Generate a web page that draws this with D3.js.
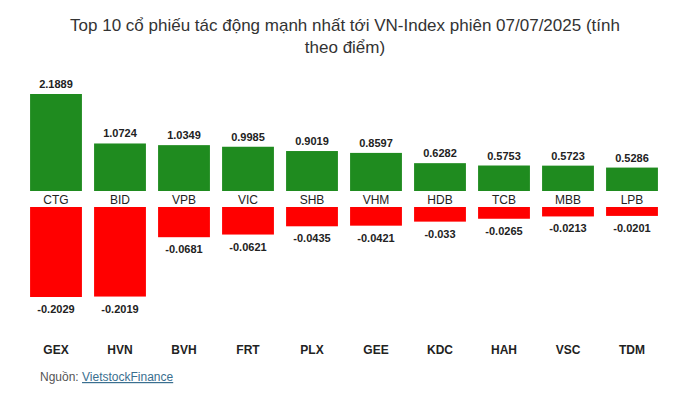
<!DOCTYPE html>
<html><head><meta charset="utf-8">
<script src="https://cdn.jsdelivr.net/npm/d3@7"></script>
<style>body{margin:0;background:#fff;font-family:Arial,"Liberation Sans",sans-serif}</style>
</head><body>
<script>
// Top positive contributors
var posCodes = ["CTG","BID","VPB","VIC","SHB","VHM","HDB","TCB","MBB","LPB"];
var posValues = [2.1889,1.0724,1.0349,0.9985,0.9019,0.8597,0.6282,0.5753,0.5723,0.5286];
// Top negative contributors
var negCodes = ["GEX","HVN","BVH","FRT","PLX","GEE","KDC","HAH","VSC","TDM"];
var negValues = [-0.2029,-0.2019,-0.0681,-0.0621,-0.0435,-0.0421,-0.033,-0.0265,-0.0213,-0.0201];

var w = 690, h = 411;
var svg = d3.select("body").append("svg").attr("width", w).attr("height", h);

// title
var title = svg.append("text").attr("text-anchor", "middle").attr("fill", "#333")
    .attr("font-size", "17px");
title.append("tspan").attr("x", 345).attr("y", 31)
    .text("Top 10 cổ phiếu tác động mạnh nhất tới VN-Index phiên 07/07/2025 (tính");
title.append("tspan").attr("x", 345).attr("y", 53).text("theo điểm)");

var xScale = d3.scaleBand().domain(d3.range(10)).range([24, 664]).paddingInner(0.19).paddingOuter(0.095);
var yPos = d3.scaleLinear().domain([0, d3.max(posValues)]).range([191, 94]);
var yNeg = d3.scaleLinear().domain([0, d3.min(negValues)]).range([207, 297]);

svg.selectAll("rect.pos").data(posValues).enter().append("rect")
    .attr("x", function(d, i) { return xScale(i); })
    .attr("y", function(d) { return yPos(d); })
    .attr("width", xScale.bandwidth())
    .attr("height", function(d) { return yPos(0) - yPos(d); })
    .attr("fill", "#1f8b1f");

svg.selectAll("text.pv").data(posValues).enter().append("text")
    .text(function(d) { return d; })
    .attr("x", function(d, i) { return xScale(i) + xScale.bandwidth() / 2; })
    .attr("y", function(d) { return yPos(d) - 6; })
    .attr("text-anchor", "middle").attr("font-size", "11px").attr("font-weight", "bold").attr("fill", "#222");

svg.selectAll("text.pc").data(posCodes).enter().append("text")
    .text(function(d) { return d; })
    .attr("x", function(d, i) { return xScale(i) + xScale.bandwidth() / 2; })
    .attr("y", 204)
    .attr("text-anchor", "middle").attr("font-size", "12px").attr("fill", "#222");

svg.selectAll("rect.neg").data(negValues).enter().append("rect")
    .attr("x", function(d, i) { return xScale(i); })
    .attr("y", yNeg(0))
    .attr("width", xScale.bandwidth())
    .attr("height", function(d) { return yNeg(d) - yNeg(0); })
    .attr("fill", "#ff0000");

svg.selectAll("text.nv").data(negValues).enter().append("text")
    .text(function(d) { return d; })
    .attr("x", function(d, i) { return xScale(i) + xScale.bandwidth() / 2; })
    .attr("y", function(d) { return yNeg(d) + 16; })
    .attr("text-anchor", "middle").attr("font-size", "11px").attr("font-weight", "bold").attr("fill", "#222");

svg.selectAll("text.nc").data(negCodes).enter().append("text")
    .text(function(d) { return d; })
    .attr("x", function(d, i) { return xScale(i) + xScale.bandwidth() / 2; })
    .attr("y", 354)
    .attr("text-anchor", "middle").attr("font-size", "12px").attr("font-weight", "bold").attr("fill", "#222");

// source
var src = svg.append("text").attr("x", 40).attr("y", 381).attr("font-size", "12px").attr("fill", "#555");
src.append("tspan").text("Nguồn: ");
src.append("tspan").attr("fill", "#3a6f8f").attr("text-decoration", "underline").text("VietstockFinance");
</script>
</body></html>
